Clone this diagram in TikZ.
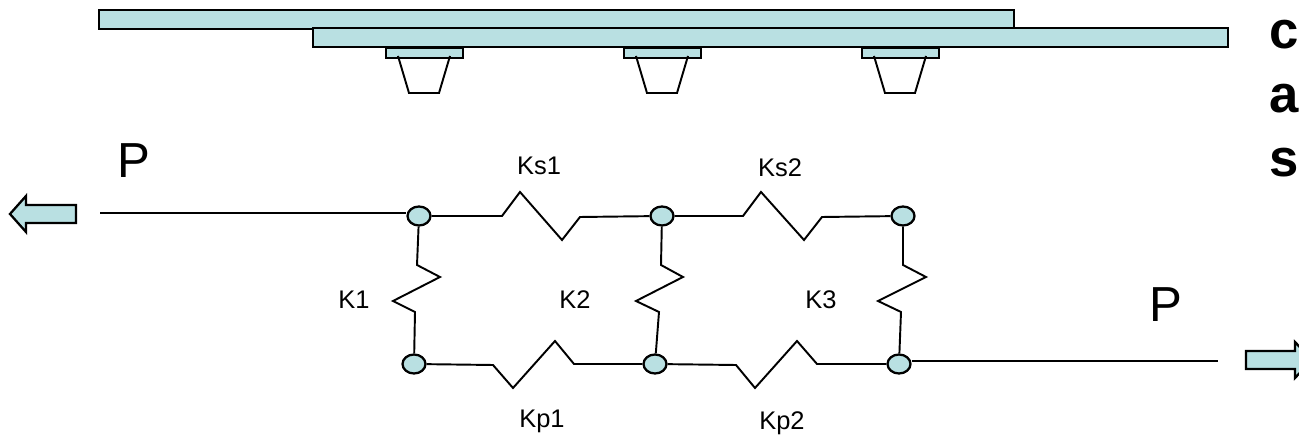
\documentclass[tikz,border=0pt]{standalone}
\usepackage{fontspec}
\setmainfont{Liberation Sans}
\usetikzlibrary{shapes.geometric}
\definecolor{plateblue}{HTML}{B9E0E2}
\tikzset{
  plate/.style={draw=black, fill=plateblue, line width=1.3pt},
  joint/.style={ellipse, draw=black, fill=plateblue, line width=1.3pt, minimum width=0.46cm, minimum height=0.38cm, inner sep=0pt},
  wire/.style={line width=1.1pt, line join=miter},
  force/.style={font=\fontsize{28}{28}\selectfont},
  stiff/.style={anchor=base, font=\fontsize{14.5}{14.5}\selectfont},
  side/.style={anchor=base, font=\fontsize{30}{30}\selectfont\bfseries}
}

\begin{document}
\begin{tikzpicture}[x=0.02cm, y=-0.02cm]
    \useasboundingbox (0,0) rectangle (1299,435);
    \clip (0,0) rectangle (1299,435);

    % plates
    \draw[plate] (99,10) rectangle (1014,29);
    \draw[plate] (313,28) rectangle (1228,47);

    % bolts
    \foreach \bx in {386,624,862} {
        \draw[plate] (\bx,48) rectangle ++(77,10);
        \draw[wire] (\bx+12,56) -- (\bx+23,93) -- (\bx+53,93) -- (\bx+64,56);
    }

    % joints
    \node[joint] (top1) at (419,216) {};
    \node[joint] (top2) at (662,216) {};
    \node[joint] (top3) at (903,216) {};
    \node[joint] (bot1) at (414,364) {};
    \node[joint] (bot2) at (655,364) {};
    \node[joint] (bot3) at (899,364) {};

    % load lines
    \coordinate (loadL) at (100,213);
    \coordinate (loadR) at (1218,361);
    \draw[wire] (loadL) -- (top1.west |- loadL);
    \draw[wire] (bot3.east |- loadR) -- (loadR);

    % springs
    \draw[wire] (top1) -- (502,216) -- (520,192) -- (562,240) -- (580,217) -- (top2);
    \draw[wire] (top2) -- (743,216) -- (761,192) -- (804,240) -- (822,217) -- (top3);
    \draw[wire] (bot1) -- (493,365) -- (513,388) -- (555,341) -- (574,364) -- (bot2);
    \draw[wire] (bot2) -- (736,365) -- (755,388) -- (797,341) -- (817,364) -- (bot3);
    \draw[wire] (top1) -- (417,265) -- (440,277) -- (393,301) -- (415,312) -- (bot1);
    \draw[wire] (top2) -- (661,265) -- (683,277) -- (636,301) -- (659,312) -- (bot2);
    \draw[wire] (top3) -- (903,265) -- (926,277) -- (878,301) -- (901,312) -- (bot3);

    % load arrows
    \draw[plate] (10,214) -- (26,196) -- (26,205) -- (76,205) -- (76,223) -- (26,223) -- (26,232) -- cycle;
    \draw[plate] (1246,351) -- (1295,351) -- (1295,342) -- (1312,360) -- (1295,378) -- (1295,369) -- (1246,369) -- cycle;

    % labels
    \node[force] (loadP1) at (134,160.5) {P};
    \node[force] (loadP2) at (1166,304.5) {P};
    \node[stiff] (labKs1) at (539,175) {Ks1};
    \node[stiff] (labKs2) at (780,176.5) {Ks2};
    \node[stiff] (labK1) at (354,308.5) {K1};
    \node[stiff] (labK2) at (575,308.5) {K2};
    \node[stiff] (labK3) at (821,308.5) {K3};
    \node[stiff] (labKp1) at (542,428) {Kp1};
    \node[stiff] (labKp2) at (782,430) {Kp2};
    \node[side] (sideC) at (1284,49) {c};
    \node[side] (sideA) at (1284,113) {a};
    \node[side] (sideS) at (1284,177) {s};
\end{tikzpicture}
\end{document}
